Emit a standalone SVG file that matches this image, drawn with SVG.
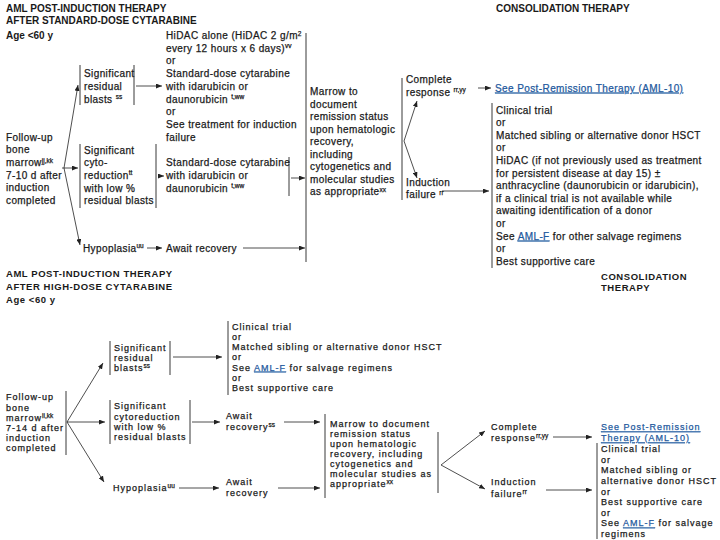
<svg xmlns="http://www.w3.org/2000/svg" width="720" height="540" viewBox="0 0 720 540">
<defs>
<marker id="ah" viewBox="0 0 6 5" refX="6" refY="2.5" markerWidth="6" markerHeight="5" orient="auto" markerUnits="userSpaceOnUse"><path d="M0,0L6,2.5L0,5z" fill="#222"/></marker>
<style>
text{font-family:"Liberation Sans",Arial,sans-serif;fill:#1a1a1a}
.h{font-size:10px;font-weight:bold}
.hb{font-size:9.5px;font-weight:bold;letter-spacing:0.55px}
.t{font-size:10px;letter-spacing:0.4px;stroke:#1a1a1a;stroke-width:0.25px}
.b{font-size:9px;letter-spacing:1px;stroke:#1a1a1a;stroke-width:0.25px}
.s{font-size:6.5px;letter-spacing:0}
.lnk{fill:#1f5a9e;stroke:#1f5a9e;text-decoration:underline}
.bar{stroke:#222;stroke-width:0.9;fill:none}
.arr{stroke:#222;stroke-width:0.8;fill:none;marker-end:url(#ah)}
</style>
</defs>
<rect width="720" height="540" fill="#fff"/>

<g id="headers">
<text class="h" x="6" y="11.5">AML POST-INDUCTION THERAPY</text>
<text class="h" x="6" y="24">AFTER STANDARD-DOSE CYTARABINE</text>
<text class="h" x="6" y="39">Age &lt;60 y</text>
<text class="h" x="496" y="11.5">CONSOLIDATION THERAPY</text>
<text class="hb" x="6" y="277">AML POST-INDUCTION THERAPY</text>
<text class="hb" x="6" y="289.5">AFTER HIGH-DOSE CYTARABINE</text>
<text class="hb" x="6" y="302.5">Age &lt;60 y</text>
<text class="hb" x="601" y="279.5">CONSOLIDATION</text>
<text class="hb" x="601" y="290.5">THERAPY</text>
</g>

<g id="connectors">
<line class="bar" x1="80" y1="65" x2="80" y2="105"/>
<line class="bar" x1="134" y1="65" x2="134" y2="105"/>
<line class="bar" x1="80" y1="144" x2="80" y2="208"/>
<line class="bar" x1="156" y1="144" x2="156" y2="208"/>
<line class="bar" x1="289" y1="157" x2="289" y2="196"/>
<line class="bar" x1="306" y1="33" x2="306" y2="262"/>
<line class="bar" x1="402" y1="78" x2="402" y2="200"/>
<line class="bar" x1="492" y1="103" x2="492" y2="268"/>
<line class="arr" x1="64" y1="168" x2="78" y2="85"/>
<line class="arr" x1="62" y1="168" x2="78" y2="168"/>
<line class="arr" x1="64" y1="168" x2="80" y2="245"/>
<line class="arr" x1="136" y1="86" x2="162" y2="86"/>
<line class="arr" x1="158" y1="176" x2="164" y2="176"/>
<line class="arr" x1="291" y1="178" x2="305" y2="178"/>
<line class="arr" x1="147" y1="248" x2="162" y2="248"/>
<line class="arr" x1="243" y1="248" x2="305" y2="248"/>
<line class="arr" x1="404" y1="141" x2="417" y2="101"/>
<line class="arr" x1="404" y1="141" x2="417" y2="178"/>
<line class="arr" x1="478" y1="88" x2="491" y2="88"/>
<line class="arr" x1="442" y1="191" x2="489" y2="191"/>
<line class="bar" x1="228" y1="321" x2="228" y2="395"/>
<line class="bar" x1="110" y1="341" x2="110" y2="375"/>
<line class="bar" x1="170" y1="341" x2="170" y2="375"/>
<line class="bar" x1="66" y1="391" x2="66" y2="455"/>
<line class="bar" x1="110" y1="400" x2="110" y2="444"/>
<line class="bar" x1="190" y1="400" x2="190" y2="444"/>
<line class="bar" x1="325" y1="414" x2="325" y2="498"/>
<line class="bar" x1="438" y1="432" x2="438" y2="493"/>
<line class="bar" x1="597" y1="443" x2="597" y2="539"/>
<line class="arr" x1="67" y1="422" x2="103" y2="363"/>
<line class="arr" x1="67" y1="422" x2="105" y2="422"/>
<line class="arr" x1="67" y1="422" x2="104" y2="482"/>
<line class="arr" x1="173" y1="357" x2="222" y2="357"/>
<line class="arr" x1="192" y1="422" x2="220" y2="422"/>
<line class="arr" x1="284" y1="422" x2="320" y2="422"/>
<line class="arr" x1="179" y1="488" x2="219" y2="488"/>
<line class="arr" x1="278" y1="488" x2="320" y2="488"/>
<line class="arr" x1="441" y1="465" x2="485" y2="431"/>
<line class="arr" x1="441" y1="465" x2="485" y2="489"/>
<line class="arr" x1="553" y1="437" x2="592" y2="437"/>
<line class="arr" x1="546" y1="490" x2="592" y2="490"/>
</g>

<g id="t-followup">
<text class="t" x="6" y="140.6">Follow-up</text>
<text class="t" x="6" y="153.3">bone</text>
<text class="t" x="6" y="166">marrow<tspan class="s" dy="-3.5">jj,kk</tspan></text>
<text class="t" x="6" y="178.7">7-10 d after</text>
<text class="t" x="6" y="191.4">induction</text>
<text class="t" x="6" y="204.1">completed</text>
</g>

<g id="t-residual">
<text class="t" x="84" y="77.1">Significant</text>
<text class="t" x="84" y="89.8">residual</text>
<text class="t" x="84" y="102.5">blasts <tspan class="s" dy="-3.5">ss</tspan></text>
</g>

<g id="t-hidac">
<text class="t" x="166" y="39">HiDAC alone (HiDAC 2 g/m<tspan class="s" dy="-3.5">2</tspan></text>
<text class="t" x="166" y="51.7">every 12 hours x 6 days)<tspan class="s" dy="-3.5">vv</tspan></text>
<text class="t" x="166" y="64.4">or</text>
<text class="t" x="166" y="77.1">Standard-dose cytarabine</text>
<text class="t" x="166" y="89.8">with idarubicin or</text>
<text class="t" x="166" y="102.5">daunorubicin <tspan class="s" dy="-3.5">t,ww</tspan></text>
<text class="t" x="166" y="115.2">or</text>
<text class="t" x="166" y="127.9">See treatment for induction</text>
<text class="t" x="166" y="140.6">failure</text>
</g>

<g id="t-cyto">
<text class="t" x="84" y="153.5">Significant</text>
<text class="t" x="84" y="166.2">cyto-</text>
<text class="t" x="84" y="178.9">reduction<tspan class="s" dy="-3.5">tt</tspan></text>
<text class="t" x="84" y="191.6">with low %</text>
<text class="t" x="84" y="204.3">residual blasts</text>
</g>

<g id="t-std2">
<text class="t" x="166" y="166.2">Standard-dose cytarabine</text>
<text class="t" x="166" y="178.9">with idarubicin or</text>
<text class="t" x="166" y="191.6">daunorubicin <tspan class="s" dy="-3.5">t,ww</tspan></text>
</g>

<g id="t-hypo">
<text class="t" x="83" y="251.5">Hypoplasia<tspan class="s" dy="-3.5">uu</tspan></text>
</g>
<g id="t-await">
<text class="t" x="166" y="251.5">Await recovery</text>
</g>

<g id="t-marrow">
<text class="t" x="310" y="95">Marrow to</text>
<text class="t" x="310" y="107.5">document</text>
<text class="t" x="310" y="120">remission status</text>
<text class="t" x="310" y="132.5">upon hematologic</text>
<text class="t" x="310" y="145">recovery,</text>
<text class="t" x="310" y="157.5">including</text>
<text class="t" x="310" y="170">cytogenetics and</text>
<text class="t" x="310" y="182.5">molecular studies</text>
<text class="t" x="310" y="195">as appropriate<tspan class="s" dy="-3.5">xx</tspan></text>
</g>

<g id="t-complete">
<text class="t" x="406" y="82.5">Complete</text>
<text class="t" x="406" y="95.5">response <tspan class="s" dy="-3.5">rr,yy</tspan></text>
</g>
<g id="t-link1">
<text class="t lnk" x="495" y="91.5">See Post-Remission Therapy (AML-10)</text>
</g>
<g id="t-failure">
<text class="t" x="406" y="185.5">Induction</text>
<text class="t" x="406" y="198">failure <tspan class="s" dy="-3.5">rr</tspan></text>
</g>

<g id="t-salvage">
<text class="t" x="496" y="113.5">Clinical trial</text>
<text class="t" x="496" y="126.1">or</text>
<text class="t" x="496" y="138.7">Matched sibling or alternative donor HSCT</text>
<text class="t" x="496" y="151.3">or</text>
<text class="t" x="496" y="163.9">HiDAC (if not previously used as treatment</text>
<text class="t" x="496" y="176.5">for persistent disease at day 15) ±</text>
<text class="t" x="496" y="189.1">anthracycline (daunorubicin or idarubicin),</text>
<text class="t" x="496" y="201.7">if a clinical trial is not available while</text>
<text class="t" x="496" y="214.3">awaiting identification of a donor</text>
<text class="t" x="496" y="226.9">or</text>
<text class="t" x="496" y="239.5">See <tspan class="lnk">AML-F</tspan> for other salvage regimens</text>
<text class="t" x="496" y="252.1">or</text>
<text class="t" x="496" y="264.7">Best supportive care</text>
</g>

<g id="b-salvage">
<text class="b" x="232" y="329.7">Clinical trial</text>
<text class="b" x="232" y="339.9">or</text>
<text class="b" x="232" y="350.1">Matched sibling or alternative donor HSCT</text>
<text class="b" x="232" y="360.3">or</text>
<text class="b" x="232" y="370.5">See <tspan class="lnk">AML-F</tspan> for salvage regimens</text>
<text class="b" x="232" y="380.7">or</text>
<text class="b" x="232" y="390.9">Best supportive care</text>
</g>

<g id="b-residual">
<text class="b" x="114" y="351.3">Significant</text>
<text class="b" x="114" y="361.3">residual</text>
<text class="b" x="114" y="371.3">blasts<tspan class="s" dy="-3.2">ss</tspan></text>
</g>

<g id="b-followup">
<text class="b" x="6" y="400.3">Follow-up</text>
<text class="b" x="6" y="410.5">bone</text>
<text class="b" x="6" y="420.7">marrow<tspan class="s" dy="-3.2">ii,kk</tspan></text>
<text class="b" x="6" y="430.9">7-14 d after</text>
<text class="b" x="6" y="441.1">induction</text>
<text class="b" x="6" y="451.3">completed</text>
</g>

<g id="b-cyto">
<text class="b" x="114" y="409.3">Significant</text>
<text class="b" x="114" y="419.5">cytoreduction</text>
<text class="b" x="114" y="429.7">with low %</text>
<text class="b" x="114" y="439.9">residual blasts</text>
</g>

<g id="b-await1">
<text class="b" x="226" y="419.3">Await</text>
<text class="b" x="226" y="430.3">recovery<tspan class="s" dy="-3.2">ss</tspan></text>
</g>

<g id="b-hypo">
<text class="b" x="113" y="491.3">Hypoplasia<tspan class="s" dy="-3.2">uu</tspan></text>
</g>

<g id="b-await2">
<text class="b" x="226" y="485.3">Await</text>
<text class="b" x="226" y="496.3">recovery</text>
</g>

<g id="b-marrow">
<text class="b" x="330" y="427.3">Marrow to document</text>
<text class="b" x="330" y="437.3">remission status</text>
<text class="b" x="330" y="447.3">upon hematologic</text>
<text class="b" x="330" y="457.3">recovery, including</text>
<text class="b" x="330" y="467.3">cytogenetics and</text>
<text class="b" x="330" y="477.3">molecular studies as</text>
<text class="b" x="330" y="487.3">appropriate<tspan class="s" dy="-3.2">xx</tspan></text>
</g>

<g id="b-complete">
<text class="b" x="491" y="430.3">Complete</text>
<text class="b" x="491" y="441.3">response<tspan class="s" dy="-3.2">rr,yy</tspan></text>
</g>
<g id="b-link">
<text class="b lnk" x="601" y="430.3">See Post-Remission</text>
<text class="b lnk" x="601" y="441.3">Therapy (AML-10)</text>
</g>
<g id="b-failure">
<text class="b" x="491" y="485.3">Induction</text>
<text class="b" x="491" y="497.3">failure<tspan class="s" dy="-3.2">rr</tspan></text>
</g>

<g id="b-salvage2">
<text class="b" x="601" y="452.2">Clinical trial</text>
<text class="b" x="601" y="462.8">or</text>
<text class="b" x="601" y="473.4">Matched sibling or</text>
<text class="b" x="601" y="484">alternative donor HSCT</text>
<text class="b" x="601" y="494.6">or</text>
<text class="b" x="601" y="505.2">Best supportive care</text>
<text class="b" x="601" y="515.8">or</text>
<text class="b" x="601" y="526.4">See <tspan class="lnk">AML-F</tspan> for salvage</text>
<text class="b" x="601" y="537">regimens</text>
</g>
</svg>
